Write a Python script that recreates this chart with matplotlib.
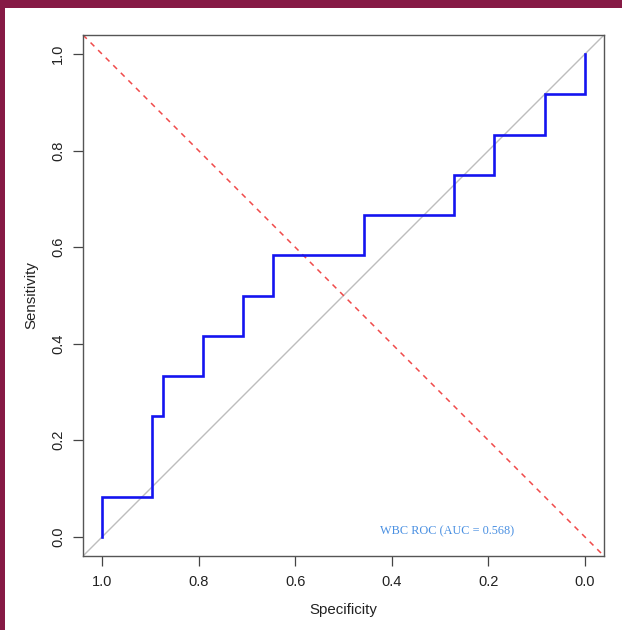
import matplotlib
matplotlib.use("Agg")
import matplotlib.pyplot as plt
from matplotlib.patches import Rectangle

# ROC curve data (specificity, sensitivity)
specificity = [1.0, 1.0, 0.896, 0.896, 0.875, 0.875, 0.792, 0.792, 0.708, 0.708,
               0.646, 0.646, 0.458, 0.458, 0.271, 0.271, 0.1875, 0.1875, 0.083, 0.083, 0.0, 0.0]
sensitivity = [0.0, 0.083, 0.083, 0.25, 0.25, 0.333, 0.333, 0.417, 0.417, 0.5,
               0.5, 0.583, 0.583, 0.667, 0.667, 0.75, 0.75, 0.833, 0.833, 0.917, 0.917, 1.0]
tick_values = [1.0, 0.8, 0.6, 0.4, 0.2, 0.0]
tick_labels = ["1.0", "0.8", "0.6", "0.4", "0.2", "0.0"]
auc_label = "WBC ROC (AUC = 0.568)"

W, H = 622, 630
fig = plt.figure(figsize=(W / 100, H / 100), dpi=100)
fig.patch.set_facecolor("white")

maroon = "#861a45"
fig.patches.append(Rectangle((0, 1 - 8 / H), 1, 8 / H, transform=fig.transFigure,
                             facecolor=maroon, edgecolor="none", zorder=0))
fig.patches.append(Rectangle((0, 0), 4.5 / W, 1, transform=fig.transFigure,
                             facecolor=maroon, edgecolor="none", zorder=0))

left, right, top, bottom = 83, 604, 35, 556
ax = fig.add_axes([left / W, 1 - bottom / H, (right - left) / W, (bottom - top) / H])

ax.set_xlim(1.04, -0.04)
ax.set_ylim(-0.04, 1.04)

# diagonal reference lines across the whole box
ax.plot([1.04, -0.04], [-0.04, 1.04], color="#bdbdbd", lw=1.0, zorder=1)
ax.plot([1.04, -0.04], [1.04, -0.04], color="#f04a4a", lw=1.1, ls=(0, (3.5, 3.5)), zorder=1)

ax.plot(specificity, sensitivity, color="#1414f0", lw=1.9, zorder=3,
        solid_joinstyle="miter")

ax.text(0.285, 0.012, auc_label, color="#4a90e2", fontsize=8.8,
        family=["Liberation Serif", "DejaVu Serif"], ha="center", va="center")

tick_font = ["Liberation Sans", "DejaVu Sans"]
ax.set_xticks(tick_values)
ax.set_xticklabels(tick_labels, fontsize=10.5, family=tick_font, color="#222222")
ax.set_yticks(tick_values)
ax.set_yticklabels(tick_labels, fontsize=10.5, family=tick_font, color="#222222",
                   rotation=90, va="center")
ax.tick_params(direction="out", length=7, width=0.9, color="#444444", pad=7)
ax.tick_params(axis="y", pad=6)

ax.set_xlabel("Specificity", fontsize=10.8, family=tick_font, color="#222222", labelpad=10)
ax.set_ylabel("Sensitivity", fontsize=10.8, family=tick_font, color="#222222", labelpad=9)

for s in ax.spines.values():
    s.set_color("#555555")
    s.set_linewidth(1.0)

fig.savefig("out.png", dpi=100, facecolor="white")
